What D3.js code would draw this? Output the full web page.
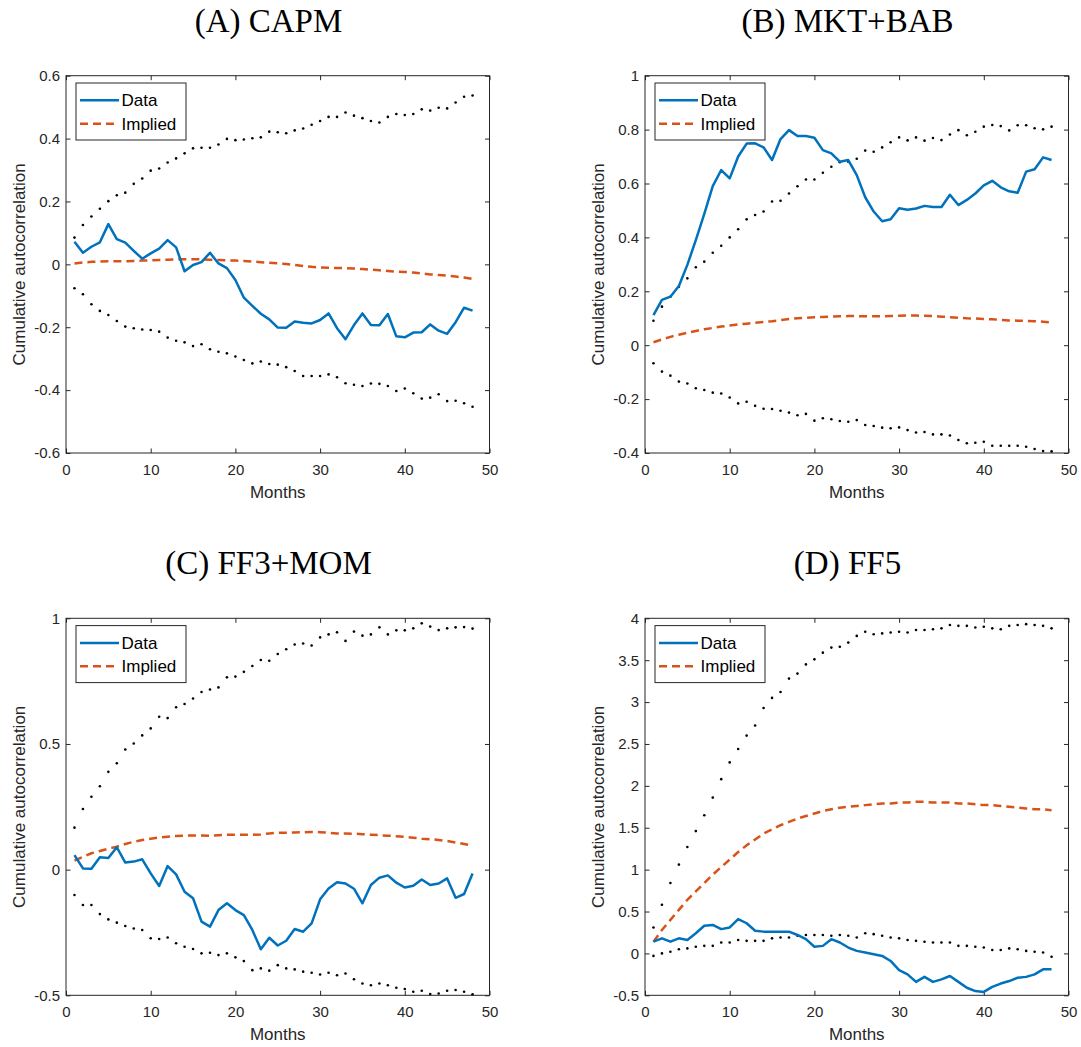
<!DOCTYPE html>
<html>
<head>
<meta charset="utf-8">
<script src="https://cdn.jsdelivr.net/npm/d3@7"></script>
<style>
  html, body { margin: 0; padding: 0; background: #fff; }
  svg { display: block; }
  .tick text { font-family: "Liberation Sans", Arial, sans-serif; font-size: 15px; fill: #262626; }
  .tick line { stroke: #262626; stroke-width: 1; }
</style>
</head>
<body>
<svg id="chart" width="1081" height="1047"></svg>
<script>
// Horizon in months (x values shared by every series)
const months = [1,2,3,4,5,6,7,8,9,10,11,12,13,14,15,16,17,18,19,20,21,22,23,24,
                25,26,27,28,29,30,31,32,33,34,35,36,37,38,39,40,41,42,43,44,45,46,47,48];
const xTicks = [0, 10, 20, 30, 40, 50];

// (A) CAPM
const dataA = [0.072,0.037,0.056,0.070,0.128,0.080,0.069,0.043,0.018,0.035,0.050,0.077,0.054,-0.022,-0.002,0.007,
               0.037,0.003,-0.012,-0.050,-0.106,-0.132,-0.157,-0.175,-0.201,-0.202,-0.182,-0.186,-0.188,-0.177,-0.156,-0.203,
               -0.238,-0.193,-0.156,-0.193,-0.194,-0.158,-0.229,-0.232,-0.217,-0.216,-0.191,-0.211,-0.221,-0.184,-0.138,-0.147];
const impliedA = [0.003,0.006,0.008,0.009,0.010,0.010,0.010,0.011,0.012,0.013,0.014,0.015,0.016,0.016,0.016,0.016,
                  0.015,0.014,0.013,0.012,0.011,0.009,0.007,0.005,0.003,0.001,-0.002,-0.005,-0.008,-0.010,-0.011,-0.012,
                  -0.012,-0.013,-0.015,-0.017,-0.019,-0.021,-0.023,-0.024,-0.026,-0.029,-0.032,-0.034,-0.036,-0.039,-0.042,-0.046];
const upperA = [0.085,0.125,0.152,0.177,0.201,0.220,0.228,0.256,0.273,0.298,0.305,0.324,0.337,0.353,0.369,0.371,
                0.371,0.381,0.399,0.395,0.397,0.401,0.404,0.422,0.420,0.417,0.426,0.432,0.444,0.456,0.469,0.469,
                0.483,0.473,0.465,0.456,0.451,0.469,0.478,0.475,0.478,0.493,0.489,0.498,0.496,0.515,0.533,0.537];
const lowerA = [-0.076,-0.095,-0.127,-0.148,-0.161,-0.180,-0.198,-0.203,-0.207,-0.209,-0.214,-0.233,-0.243,-0.248,-0.260,-0.254,
                -0.270,-0.278,-0.283,-0.293,-0.304,-0.315,-0.309,-0.317,-0.319,-0.327,-0.339,-0.355,-0.355,-0.355,-0.350,-0.359,
                -0.378,-0.383,-0.387,-0.379,-0.380,-0.387,-0.403,-0.395,-0.410,-0.427,-0.424,-0.413,-0.435,-0.434,-0.442,-0.453];
const yTicksA = [-0.6,-0.4,-0.2,0,0.2,0.4,0.6];

// (B) MKT+BAB
const dataB = [0.112,0.168,0.180,0.220,0.298,0.390,0.487,0.590,0.650,0.619,0.700,0.748,0.749,0.734,0.687,0.765,
               0.798,0.776,0.776,0.770,0.724,0.712,0.681,0.687,0.631,0.549,0.496,0.460,0.467,0.508,0.503,0.507,
               0.517,0.513,0.513,0.558,0.520,0.539,0.563,0.593,0.610,0.586,0.571,0.566,0.644,0.653,0.697,0.687];
const impliedB = [0.011,0.021,0.031,0.039,0.046,0.053,0.059,0.064,0.069,0.073,0.077,0.080,0.083,0.086,0.089,0.093,
                  0.097,0.100,0.102,0.104,0.105,0.106,0.107,0.108,0.108,0.107,0.107,0.107,0.108,0.109,0.110,0.110,
                  0.109,0.108,0.106,0.104,0.102,0.100,0.099,0.097,0.096,0.094,0.092,0.091,0.090,0.089,0.087,0.084];
const upperB = [0.091,0.143,0.180,0.217,0.248,0.289,0.310,0.343,0.369,0.400,0.430,0.467,0.483,0.496,0.533,0.536,
                0.563,0.590,0.615,0.615,0.640,0.662,0.679,0.681,0.692,0.722,0.718,0.734,0.753,0.771,0.760,0.771,
                0.759,0.769,0.761,0.782,0.798,0.779,0.792,0.811,0.817,0.813,0.797,0.816,0.816,0.805,0.801,0.811];
const lowerB = [-0.067,-0.098,-0.113,-0.135,-0.142,-0.160,-0.166,-0.176,-0.179,-0.194,-0.216,-0.210,-0.225,-0.236,-0.237,-0.243,
                -0.250,-0.260,-0.255,-0.280,-0.271,-0.275,-0.281,-0.284,-0.278,-0.296,-0.300,-0.306,-0.308,-0.305,-0.315,-0.324,
                -0.322,-0.331,-0.331,-0.335,-0.352,-0.364,-0.362,-0.358,-0.373,-0.373,-0.373,-0.373,-0.377,-0.385,-0.393,-0.394];
const yTicksB = [-0.4,-0.2,0,0.2,0.4,0.6,0.8,1];

// (C) FF3+MOM
const dataC = [0.058,0.005,0.004,0.049,0.046,0.089,0.028,0.032,0.041,-0.015,-0.065,0.014,-0.019,-0.088,-0.114,-0.207,
               -0.227,-0.161,-0.134,-0.161,-0.181,-0.240,-0.317,-0.271,-0.302,-0.283,-0.236,-0.247,-0.214,-0.118,-0.075,-0.050,
               -0.055,-0.076,-0.134,-0.061,-0.032,-0.023,-0.052,-0.071,-0.064,-0.039,-0.061,-0.055,-0.035,-0.112,-0.097,-0.015];
const impliedC = [0.036,0.051,0.065,0.074,0.083,0.091,0.102,0.111,0.118,0.123,0.128,0.131,0.134,0.135,0.136,0.136,
                  0.135,0.137,0.139,0.139,0.139,0.139,0.140,0.144,0.147,0.147,0.148,0.149,0.150,0.149,0.147,0.144,
                  0.144,0.143,0.141,0.139,0.137,0.135,0.133,0.130,0.127,0.123,0.121,0.118,0.114,0.108,0.102,0.095];
const upperC = [0.167,0.241,0.290,0.332,0.389,0.423,0.478,0.502,0.534,0.562,0.608,0.603,0.646,0.659,0.681,0.707,
                0.717,0.725,0.765,0.768,0.787,0.810,0.834,0.831,0.858,0.877,0.896,0.900,0.892,0.924,0.936,0.944,
                0.910,0.947,0.931,0.936,0.964,0.936,0.952,0.952,0.960,0.980,0.967,0.953,0.960,0.964,0.965,0.959];
const lowerC = [-0.101,-0.141,-0.141,-0.177,-0.198,-0.211,-0.224,-0.234,-0.240,-0.273,-0.276,-0.270,-0.293,-0.307,-0.316,-0.333,
                -0.331,-0.340,-0.333,-0.349,-0.364,-0.400,-0.393,-0.402,-0.380,-0.393,-0.397,-0.406,-0.410,-0.417,-0.410,-0.420,
                -0.413,-0.436,-0.453,-0.460,-0.453,-0.460,-0.470,-0.475,-0.486,-0.482,-0.495,-0.493,-0.482,-0.479,-0.486,-0.496];
const yTicksC = [-0.5,0,0.5,1];

// (D) FF5
const dataD = [0.14,0.18,0.14,0.18,0.16,0.24,0.33,0.34,0.29,0.31,0.41,0.36,0.27,0.26,0.26,0.26,
               0.26,0.22,0.17,0.08,0.09,0.17,0.13,0.07,0.03,0.01,-0.01,-0.03,-0.09,-0.20,-0.25,-0.34,
               -0.28,-0.34,-0.31,-0.27,-0.34,-0.41,-0.45,-0.46,-0.40,-0.36,-0.33,-0.29,-0.28,-0.25,-0.19,-0.19];
const impliedD = [0.14,0.28,0.40,0.52,0.64,0.74,0.84,0.94,1.03,1.12,1.21,1.29,1.36,1.43,1.48,1.53,
                  1.57,1.61,1.64,1.67,1.70,1.72,1.74,1.75,1.76,1.77,1.78,1.79,1.79,1.80,1.80,1.81,
                  1.81,1.80,1.80,1.80,1.79,1.79,1.78,1.77,1.77,1.76,1.75,1.74,1.73,1.72,1.72,1.71];
const upperD = [0.31,0.58,0.84,1.06,1.27,1.46,1.65,1.86,2.08,2.28,2.44,2.60,2.72,2.93,3.05,3.12,
                3.28,3.34,3.45,3.51,3.59,3.65,3.66,3.71,3.79,3.84,3.81,3.82,3.83,3.84,3.83,3.86,
                3.86,3.87,3.88,3.92,3.91,3.91,3.89,3.90,3.88,3.87,3.91,3.92,3.93,3.92,3.91,3.88];
const lowerD = [-0.03,0.00,0.02,0.05,0.06,0.08,0.09,0.09,0.13,0.13,0.16,0.15,0.15,0.15,0.18,0.19,
                0.19,0.21,0.22,0.22,0.22,0.21,0.22,0.21,0.19,0.24,0.23,0.21,0.19,0.18,0.16,0.15,
                0.14,0.13,0.13,0.13,0.09,0.09,0.08,0.07,0.04,0.04,0.06,0.05,0.03,0.02,0.01,-0.04];
const yTicksD = [-0.5,0,0.5,1,1.5,2,2.5,3,3.5,4];

const panelTitles = ["(A) CAPM", "(B) MKT+BAB", "(C) FF3+MOM", "(D) FF5"];
const legendLabels = ["Data", "Implied"];

const BLUE = "#0072BD", ORANGE = "#D95319", AXIS = "#262626";
const SANS = '"Liberation Sans", Arial, sans-serif';

const panels = [
  { title: panelTitles[0], data: dataA, implied: impliedA, upper: upperA, lower: lowerA, yTicks: yTicksA,
    left: 66, right: 489.5, top: 75.7, bottom: 453, titleX: 268.5, titleY: 31.5 },
  { title: panelTitles[1], data: dataB, implied: impliedB, upper: upperB, lower: lowerB, yTicks: yTicksB,
    left: 645, right: 1068.5, top: 75.7, bottom: 453, titleX: 847.5, titleY: 31.5 },
  { title: panelTitles[2], data: dataC, implied: impliedC, upper: upperC, lower: lowerC, yTicks: yTicksC,
    left: 66, right: 489.5, top: 618.3, bottom: 995.3, titleX: 268.5, titleY: 574 },
  { title: panelTitles[3], data: dataD, implied: impliedD, upper: upperD, lower: lowerD, yTicks: yTicksD,
    left: 645, right: 1068.5, top: 618.3, bottom: 995.3, titleX: 847.5, titleY: 574 }
];

const svg = d3.select("#chart");
const fmt = v => String(+v.toFixed(2));

function drawPanel(p) {
  const yExtent = d3.extent(p.yTicks);
  const x = d3.scaleLinear().domain([0, 50]).range([p.left, p.right]);
  const y = d3.scaleLinear().domain(yExtent).range([p.bottom, p.top]);
  const g = svg.append("g");

  // title
  g.append("text")
    .attr("x", p.titleX).attr("y", p.titleY)
    .attr("text-anchor", "middle")
    .style("font-family", '"Liberation Serif", "Times New Roman", serif')
    .style("font-size", "33px").style("fill", "#000")
    .text(p.title);

  // axes with inward ticks on all four sides
  const tick = -4.5;
  g.append("g").attr("transform", `translate(0,${p.bottom})`)
    .call(d3.axisBottom(x).tickValues(xTicks).tickFormat(fmt).tickSize(tick).tickSizeOuter(0).tickPadding(11))
    .call(a => a.select(".domain").remove());
  g.append("g").attr("transform", `translate(0,${p.top})`)
    .call(d3.axisTop(x).tickValues(xTicks).tickFormat("").tickSize(tick).tickSizeOuter(0))
    .call(a => a.select(".domain").remove());
  g.append("g").attr("transform", `translate(${p.left},0)`)
    .call(d3.axisLeft(y).tickValues(p.yTicks).tickFormat(fmt).tickSize(tick).tickSizeOuter(0).tickPadding(6))
    .call(a => a.select(".domain").remove());
  g.append("g").attr("transform", `translate(${p.right},0)`)
    .call(d3.axisRight(y).tickValues(p.yTicks).tickFormat("").tickSize(tick).tickSizeOuter(0))
    .call(a => a.select(".domain").remove());
  g.selectAll(".tick text").attr("fill", AXIS);
  g.selectAll(".tick line").attr("stroke", AXIS);

  g.append("rect")
    .attr("x", p.left).attr("y", p.top)
    .attr("width", p.right - p.left).attr("height", p.bottom - p.top)
    .attr("fill", "none").attr("stroke", AXIS).attr("stroke-width", 1);

  // axis labels
  g.append("text")
    .attr("x", (p.left + p.right) / 2).attr("y", p.bottom + 45)
    .attr("text-anchor", "middle")
    .style("font-family", SANS).style("font-size", "17px").style("fill", AXIS)
    .text("Months");
  g.append("text")
    .attr("transform", `translate(${p.left - 41},${(p.top + p.bottom) / 2}) rotate(-90)`)
    .attr("text-anchor", "middle")
    .style("font-family", SANS).style("font-size", "17px").style("fill", AXIS)
    .text("Cumulative autocorrelation");

  const line = vals => d3.line().x((d, i) => x(months[i])).y(d => y(d))(vals);

  // confidence bands: one dot per month
  [p.upper, p.lower].forEach(band => {
    g.append("g").selectAll("circle").data(band).join("circle")
      .attr("cx", (d, i) => x(months[i])).attr("cy", d => y(d))
      .attr("r", 1.3).attr("fill", "#000");
  });

  g.append("path").attr("d", line(p.implied))
    .attr("fill", "none").attr("stroke", ORANGE).attr("stroke-width", 2.5)
    .attr("stroke-dasharray", "8,5");
  g.append("path").attr("d", line(p.data))
    .attr("fill", "none").attr("stroke", BLUE).attr("stroke-width", 2.5)
    .attr("stroke-linejoin", "round");

  // legend
  const lx = p.left + 10, ly = p.top + 7.3;
  const lg = g.append("g").attr("transform", `translate(${lx},${ly})`);
  lg.append("rect").attr("width", 110).attr("height", 57)
    .attr("fill", "#fff").attr("stroke", AXIS).attr("stroke-width", 1);
  const rows = [
    { label: legendLabels[0], color: BLUE, dash: null, yy: 17.3 },
    { label: legendLabels[1], color: ORANGE, dash: "8,5", yy: 40.7 }
  ];
  rows.forEach(r => {
    lg.append("line").attr("x1", 4).attr("x2", 43).attr("y1", r.yy).attr("y2", r.yy)
      .attr("stroke", r.color).attr("stroke-width", 2.5)
      .attr("stroke-dasharray", r.dash);
    lg.append("text").attr("x", 45.5).attr("y", r.yy + 6)
      .style("font-family", SANS).style("font-size", "17px").style("fill", "#000")
      .text(r.label);
  });
}

panels.forEach(drawPanel);
</script>
</body>
</html>
